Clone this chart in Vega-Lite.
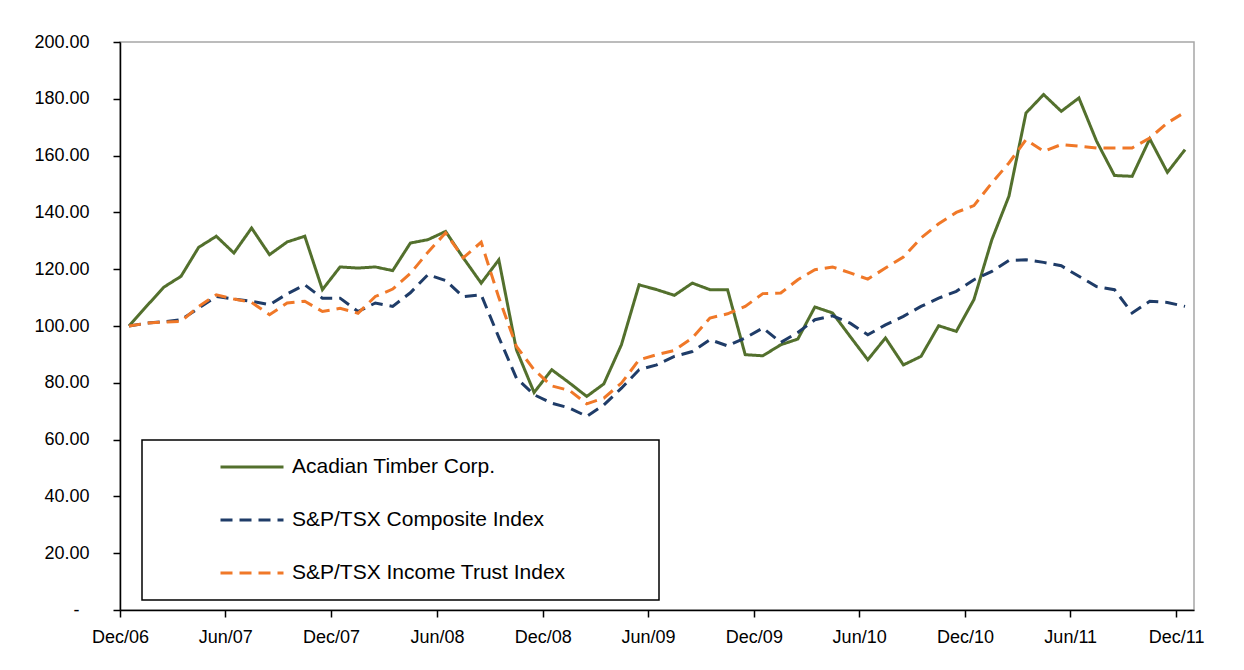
{
  "$schema": "https://vega.github.io/schema/vega-lite/v6.json",
  "width": 1074,
  "height": 568,
  "autosize": "none",
  "padding": {"left": 120, "top": 42, "right": 50, "bottom": 60},
  "background": "white",
  "data": {
    "values": [
      {"date": "2006-12", "A": 100, "C": 100, "T": 100},
      {"date": "2007-01", "A": 107.1, "C": 101, "T": 101},
      {"date": "2007-02", "A": 113.7, "C": 101.5, "T": 101.4},
      {"date": "2007-03", "A": 117.5, "C": 102.2, "T": 101.6},
      {"date": "2007-04", "A": 127.7, "C": 106.3, "T": 106.9},
      {"date": "2007-05", "A": 131.6, "C": 110.4, "T": 111},
      {"date": "2007-06", "A": 125.7, "C": 109.5, "T": 109.5},
      {"date": "2007-07", "A": 134.5, "C": 108.7, "T": 108.3},
      {"date": "2007-08", "A": 125.1, "C": 107.5, "T": 104},
      {"date": "2007-09", "A": 129.6, "C": 111.3, "T": 108.1},
      {"date": "2007-10", "A": 131.6, "C": 114.5, "T": 108.7},
      {"date": "2007-11", "A": 112.8, "C": 109.8, "T": 105.1},
      {"date": "2007-12", "A": 120.8, "C": 109.8, "T": 106.2},
      {"date": "2008-01", "A": 120.4, "C": 105.1, "T": 104.5},
      {"date": "2008-02", "A": 120.8, "C": 108.1, "T": 110.4},
      {"date": "2008-03", "A": 119.5, "C": 106.9, "T": 113},
      {"date": "2008-04", "A": 129.2, "C": 111.7, "T": 118.5},
      {"date": "2008-05", "A": 130.4, "C": 118.1, "T": 126},
      {"date": "2008-06", "A": 133.3, "C": 116, "T": 132.8},
      {"date": "2008-07", "A": 124, "C": 110.3, "T": 124},
      {"date": "2008-08", "A": 115.1, "C": 111, "T": 129.5},
      {"date": "2008-09", "A": 123.3, "C": 96, "T": 110},
      {"date": "2008-10", "A": 91.6, "C": 81.6, "T": 92.8},
      {"date": "2008-11", "A": 76.6, "C": 75.8, "T": 84.6},
      {"date": "2008-12", "A": 84.6, "C": 72.8, "T": 78.9},
      {"date": "2009-01", "A": 79.9, "C": 71.1, "T": 77.3},
      {"date": "2009-02", "A": 75.2, "C": 68.2, "T": 72.6},
      {"date": "2009-03", "A": 79.6, "C": 72.2, "T": 74.6},
      {"date": "2009-04", "A": 93.4, "C": 78.1, "T": 79.9},
      {"date": "2009-05", "A": 114.5, "C": 84.6, "T": 88.1},
      {"date": "2009-06", "A": 112.8, "C": 86.3, "T": 89.9},
      {"date": "2009-07", "A": 110.8, "C": 89.3, "T": 91.4},
      {"date": "2009-08", "A": 115.1, "C": 91, "T": 95.8},
      {"date": "2009-09", "A": 112.8, "C": 95.2, "T": 102.8},
      {"date": "2009-10", "A": 112.8, "C": 93, "T": 104.3},
      {"date": "2009-11", "A": 89.9, "C": 95.8, "T": 106.9},
      {"date": "2009-12", "A": 89.5, "C": 99.3, "T": 111.4},
      {"date": "2010-01", "A": 93.4, "C": 94.2, "T": 111.6},
      {"date": "2010-02", "A": 95.4, "C": 97.7, "T": 116.3},
      {"date": "2010-03", "A": 106.7, "C": 102.2, "T": 119.8},
      {"date": "2010-04", "A": 104.6, "C": 103.6, "T": 120.8},
      {"date": "2010-05", "A": 96.3, "C": 101, "T": 118.7},
      {"date": "2010-06", "A": 88.1, "C": 96.9, "T": 116.5},
      {"date": "2010-07", "A": 95.8, "C": 100.4, "T": 120.4},
      {"date": "2010-08", "A": 86.3, "C": 103.4, "T": 124.3},
      {"date": "2010-09", "A": 89.3, "C": 106.9, "T": 131},
      {"date": "2010-10", "A": 100.1, "C": 109.8, "T": 136},
      {"date": "2010-11", "A": 98.1, "C": 112.2, "T": 140},
      {"date": "2010-12", "A": 109.3, "C": 116.3, "T": 142.4},
      {"date": "2011-01", "A": 130.4, "C": 119.2, "T": 150.4},
      {"date": "2011-02", "A": 145.7, "C": 123.1, "T": 157.4},
      {"date": "2011-03", "A": 175, "C": 123.3, "T": 165.6},
      {"date": "2011-04", "A": 181.5, "C": 122.4, "T": 161.5},
      {"date": "2011-05", "A": 175.6, "C": 121.2, "T": 163.9},
      {"date": "2011-06", "A": 180.3, "C": 117.5, "T": 163.3},
      {"date": "2011-07", "A": 165.1, "C": 113.9, "T": 162.7},
      {"date": "2011-08", "A": 153, "C": 112.8, "T": 162.7},
      {"date": "2011-09", "A": 152.7, "C": 104.6, "T": 162.7},
      {"date": "2011-10", "A": 165.9, "C": 108.7, "T": 166.2},
      {"date": "2011-11", "A": 154.1, "C": 108.3, "T": 171.5},
      {"date": "2011-12", "A": 162.1, "C": 106.9, "T": 175.3}
    ]
  },
  "transform": [{"fold": ["A", "C", "T"], "as": ["series", "value"]}],
  "mark": {"type": "line", "strokeWidth": 3},
  "encoding": {
    "x": {
      "field": "date",
      "type": "temporal",
      "timeUnit": "utcyearmonth",
      "bandPosition": 0.5,
      "scale": {
        "type": "utc",
        "domain": [
          {"year": 2006, "month": 12, "date": 1, "utc": true},
          {"year": 2012, "month": 1, "date": 1, "utc": true}
        ]
      },
      "axis": {
        "title": null,
        "values": [
          {"year": 2006, "month": 12, "date": 1, "utc": true},
          {"year": 2007, "month": 6, "date": 1, "utc": true},
          {"year": 2007, "month": 12, "date": 1, "utc": true},
          {"year": 2008, "month": 6, "date": 1, "utc": true},
          {"year": 2008, "month": 12, "date": 1, "utc": true},
          {"year": 2009, "month": 6, "date": 1, "utc": true},
          {"year": 2009, "month": 12, "date": 1, "utc": true},
          {"year": 2010, "month": 6, "date": 1, "utc": true},
          {"year": 2010, "month": 12, "date": 1, "utc": true},
          {"year": 2011, "month": 6, "date": 1, "utc": true},
          {"year": 2011, "month": 12, "date": 1, "utc": true}
        ],
        "labelExpr": "utcFormat(datum.value, '%b/%y')",
        "labelFontSize": 18,
        "labelPadding": 11,
        "labelFlush": false,
        "labelOverlap": false
      }
    },
    "y": {
      "field": "value",
      "type": "quantitative",
      "scale": {"domain": [0, 200], "nice": false},
      "axis": {
        "title": null,
        "values": [0, 20, 40, 60, 80, 100, 120, 140, 160, 180, 200],
        "labelExpr": "datum.value == 0 ? '-\u00a0\u00a0\u200b' : format(datum.value, '.2f')",
        "labelFontSize": 18,
        "labelPadding": 24
      }
    },
    "color": {
      "field": "series",
      "type": "nominal",
      "scale": {"domain": ["A", "C", "T"], "range": ["#53702D", "#1F3C68", "#F07828"]},
      "legend": {
        "labelExpr": "(datum.value == 'A' ? 'Acadian Timber Corp.' : datum.value == 'C' ? 'S&P/TSX Composite Index' : 'S&P/TSX Income Trust Index') + '\u00a0\u00a0\u00a0\u00a0\u00a0\u00a0\u00a0\u00a0\u00a0\u00a0\u00a0\u00a0\u00a0\u200b'"
      }
    },
    "strokeDash": {
      "field": "series",
      "type": "nominal",
      "scale": {"domain": ["A", "C", "T"], "range": [[1, 0], [12, 7], [12, 7]]},
      "legend": {
        "labelExpr": "(datum.value == 'A' ? 'Acadian Timber Corp.' : datum.value == 'C' ? 'S&P/TSX Composite Index' : 'S&P/TSX Income Trust Index') + '\u00a0\u00a0\u00a0\u00a0\u00a0\u00a0\u00a0\u00a0\u00a0\u00a0\u00a0\u00a0\u00a0\u200b'"
      }
    }
  },
  "config": {
    "font": "Liberation Sans",
    "view": {"stroke": "#a6a6a6", "strokeWidth": 1.5},
    "axis": {
      "grid": false,
      "domainColor": "#000000",
      "domainWidth": 1.5,
      "tickColor": "#000000",
      "tickWidth": 1.5,
      "tickSize": 7,
      "labelColor": "#000000",
      "labelFont": "Liberation Sans"
    },
    "legend": {
      "orient": "none",
      "legendX": 22,
      "legendY": 398,
      "title": null,
      "strokeColor": "#000000",
      "strokeWidth": 1.5,
      "fillColor": "#ffffff",
      "padding": 17,
      "symbolType": "stroke",
      "symbolSize": 3969,
      "symbolStrokeWidth": 3,
      "symbolOffset": 60,
      "clipHeight": 20,
      "rowPadding": 32,
      "labelOffset": 7,
      "labelFontSize": 21,
      "labelFont": "Liberation Sans",
      "labelColor": "#000000",
      "labelLimit": 0
    }
  }
}
